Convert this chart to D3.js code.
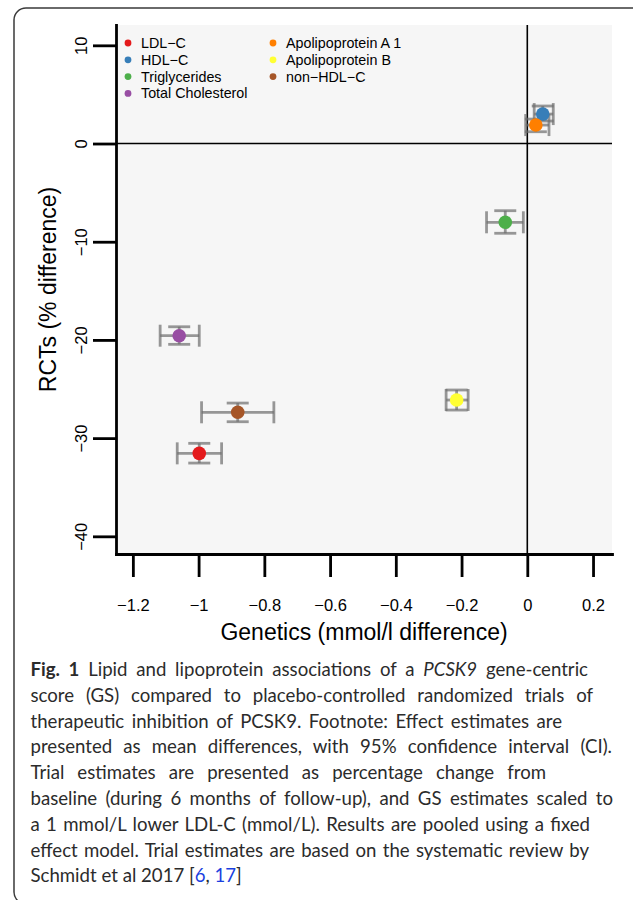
<!DOCTYPE html>
<html>
<head>
<meta charset="utf-8">
<script src="https://cdn.jsdelivr.net/npm/d3@7"></script>
<style>
  body { margin: 0; background: #fff; }
  svg { display: block; }
  .axis path, .axis line { stroke: #000; stroke-width: 2.8; }
  .axis text { font-family: "Liberation Sans", Arial, sans-serif; font-size: 16.5px; fill: #000; }
</style>
</head>
<body>
<div id="chart"></div>
<script>
// lipid traits, genetics (GS) vs trials (RCTs)
const lipids = ["LDL\u2212C", "HDL\u2212C", "Triglycerides", "Total Cholesterol",
                "Apolipoprotein A 1", "Apolipoprotein B", "non\u2212HDL\u2212C"];
const colors = ["#E41A1C", "#377EB8", "#4DAF4A", "#984EA3", "#FF7F00", "#FFFF33", "#A65628"];

const genEst = [-0.998, 0.047, -0.067, -1.059, 0.026, -0.215, -0.881];
const genLo  = [-1.065, 0.021, -0.124, -1.117, -0.005, -0.247, -0.991];
const genHi  = [-0.930, 0.079, -0.012, -0.998, 0.066, -0.180, -0.771];
const rctEst = [-31.55, 3.00, -8.02, -19.57, 1.88, -26.12, -27.37];
const rctLo  = [-32.54, 2.29, -9.14, -20.45, 1.20, -27.14, -28.33];
const rctHi  = [-30.53, 3.82, -6.84, -18.66, 2.49, -25.10, -26.43];

const xTicks = [-1.2, -1, -0.8, -0.6, -0.4, -0.2, 0, 0.2];
const yTicks = [10, 0, -10, -20, -30, -40];

const xTitle = "Genetics (mmol/l difference)";
const yTitle = "RCTs (% difference)";

// caption lines: [text, style] pieces, right edge of each justified line
const captionLines = [
  [["Fig. 1", "b"], [" Lipid and lipoprotein associations of a ", ""], ["PCSK9", "i"], [" gene-centric", ""]],
  [["score (GS) compared to placebo-controlled randomized trials of", ""]],
  [["therapeutic inhibition of PCSK9. Footnote: Effect estimates are", ""]],
  [["presented as mean differences, with 95% confidence interval (CI).", ""]],
  [["Trial estimates are presented as percentage change from", ""]],
  [["baseline (during 6 months of follow-up), and GS estimates scaled to", ""]],
  [["a 1 mmol/L lower LDL-C (mmol/L). Results are pooled using a fixed", ""]],
  [["effect model. Trial estimates are based on the systematic review by", ""]],
  [["Schmidt et al 2017 [", ""], ["6", "link"], [", ", ""], ["17", "link"], ["]", ""]]
];
const captionEnds = [588, 593, 562, 612, 546, 613, 590, 589, 242];

const data = lipids.map((name, i) => ({
  name: name, color: colors[i],
  gx: genEst[i], gxLo: genLo[i], gxHi: genHi[i],
  ry: rctEst[i], ryLo: rctLo[i], ryHi: rctHi[i]
}));

const svgWidth = 633, svgHeight = 900;
const plot = { left: 116, right: 612, top: 25, bottom: 554 };

const svg = d3.select("#chart").append("svg")
  .attr("width", svgWidth)
  .attr("height", svgHeight);

// outer figure frame
svg.append("rect")
  .attr("x", 14).attr("y", 8)
  .attr("width", 640).attr("height", 896)
  .attr("rx", 12)
  .attr("fill", "none")
  .attr("stroke", "#3a3a3a")
  .attr("stroke-width", 1.5);

// scales
const xScale = d3.scaleLinear()
  .domain([-1.2513, 0.2577])
  .range([plot.left, plot.right]);
const yScale = d3.scaleLinear()
  .domain([-41.80, 12.07])
  .range([plot.bottom, plot.top]);

// panel background
svg.append("rect")
  .attr("x", plot.left).attr("y", plot.top)
  .attr("width", plot.right - plot.left)
  .attr("height", plot.bottom - plot.top)
  .attr("fill", "#f6f6f6");

// zero lines
svg.append("line")
  .attr("x1", plot.left).attr("x2", plot.right)
  .attr("y1", yScale(0)).attr("y2", yScale(0))
  .attr("stroke", "#000").attr("stroke-width", 1.6);
svg.append("line")
  .attr("x1", xScale(0)).attr("x2", xScale(0))
  .attr("y1", plot.top).attr("y2", plot.bottom)
  .attr("stroke", "#000").attr("stroke-width", 1.6);

const fmt = v => String(v).replace("-", "\u2212");

// axes
const bottomAxis = d3.axisBottom(xScale)
  .tickValues(xTicks)
  .tickSize(23)
  .tickSizeOuter(0)
  .tickFormat(fmt);
const leftAxis = d3.axisLeft(yScale)
  .tickValues(yTicks)
  .tickSize(23)
  .tickSizeOuter(0)
  .tickFormat(fmt);

svg.append("g")
  .attr("class", "axis")
  .attr("transform", `translate(0, ${plot.bottom})`)
  .call(bottomAxis)
  .selectAll("text")
  .attr("y", 45)
  .attr("dy", "0.71em");

svg.append("g")
  .attr("class", "axis")
  .attr("transform", `translate(${plot.left}, 0)`)
  .call(leftAxis)
  .selectAll("text")
  .attr("x", null)
  .attr("dy", null)
  .style("text-anchor", "middle")
  .attr("transform", "translate(-29.5, 0) rotate(-90)");

svg.selectAll(".axis path").attr("stroke-linecap", "square");

// axis titles
svg.append("text")
  .attr("x", (plot.left + plot.right) / 2)
  .attr("y", 640)
  .attr("text-anchor", "middle")
  .style("font-family", "Liberation Sans, Arial, sans-serif")
  .style("font-size", "23px")
  .text(xTitle);

svg.append("text")
  .attr("transform", `translate(56, ${(plot.top + plot.bottom) / 2}) rotate(-90)`)
  .attr("text-anchor", "middle")
  .style("font-family", "Liberation Sans, Arial, sans-serif")
  .style("font-size", "23px")
  .text(yTitle);

// error bars (shaft + caps), drawn before the points
const barColor = "rgba(110,110,110,0.7)";
const cap = 11;
const bars = svg.append("g")
  .attr("stroke", barColor)
  .attr("stroke-width", 2.8)
  .attr("fill", "none");

data.forEach(d => {
  const cx = xScale(d.gx), cy = yScale(d.ry);
  // genetics CI (horizontal)
  bars.append("line")
    .attr("x1", xScale(d.gxLo)).attr("x2", xScale(d.gxHi))
    .attr("y1", cy).attr("y2", cy);
  [d.gxLo, d.gxHi].forEach(v => {
    bars.append("line")
      .attr("x1", xScale(v)).attr("x2", xScale(v))
      .attr("y1", cy - cap).attr("y2", cy + cap);
  });
  // trial CI (vertical)
  bars.append("line")
    .attr("x1", cx).attr("x2", cx)
    .attr("y1", yScale(d.ryLo)).attr("y2", yScale(d.ryHi));
  [d.ryLo, d.ryHi].forEach(v => {
    bars.append("line")
      .attr("x1", cx - cap).attr("x2", cx + cap)
      .attr("y1", yScale(v)).attr("y2", yScale(v));
  });
});

// points
svg.append("g")
  .selectAll("circle")
  .data(data)
  .enter()
  .append("circle")
  .attr("cx", d => xScale(d.gx))
  .attr("cy", d => yScale(d.ry))
  .attr("r", 6.8)
  .attr("fill", d => d.color);

// legend, two columns
const legend = svg.append("g")
  .style("font-family", "Liberation Sans, Arial, sans-serif")
  .style("font-size", "14.3px");

data.forEach((d, i) => {
  const col = i < 4 ? 0 : 1;
  const row = i < 4 ? i : i - 4;
  const lx = col === 0 ? 128 : 273;
  const ly = 43 + row * 16.8;
  legend.append("circle")
    .attr("cx", lx).attr("cy", ly).attr("r", 3.4)
    .attr("fill", d.color);
  legend.append("text")
    .attr("x", lx + 13).attr("y", ly + 5)
    .text(d.name);
});

// caption
const caption = svg.append("g")
  .style("font-family", "Lato, sans-serif")
  .style("fill", "#2b2b2b");

const capX = 30.5, capY0 = 676, capStep = 25.8;

const capTexts = captionLines.map((pieces, li) => {
  const t = caption.append("text")
    .attr("x", capX)
    .attr("y", capY0 + li * capStep);
  pieces.forEach(p => {
    const ts = t.append("tspan").text(p[0]);
    if (p[1] === "b") ts.style("font-weight", "bold");
    if (p[1] === "i") ts.style("font-style", "italic");
    if (p[1] === "link") ts.style("fill", "#1a3fe0");
  });
  return t;
});

// size the font off the last (unjustified) line, then spread words
caption.style("font-size", "18px");
const w9 = capTexts[8].node().getComputedTextLength();
const capSize = 18 * (captionEnds[8] - capX) / w9;
caption.style("font-size", capSize + "px");

capTexts.forEach((t, li) => {
  const full = captionLines[li].map(p => p[0]).join("");
  const gaps = (full.match(/ /g) || []).length;
  const natural = t.node().getComputedTextLength();
  const extra = (captionEnds[li] - capX) - natural;
  if (gaps > 0 && li < 8) t.style("word-spacing", (extra / gaps) + "px");
});
</script>
</body>
</html>
